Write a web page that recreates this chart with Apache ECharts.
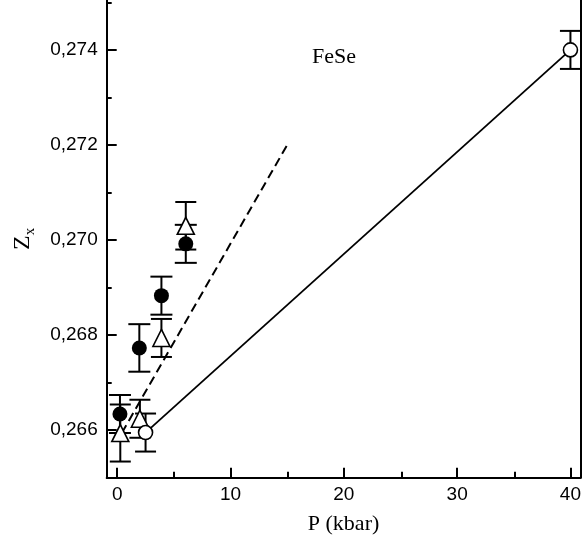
<!DOCTYPE html>
<html>
<head>
<meta charset="utf-8">
<script src="https://cdn.jsdelivr.net/npm/echarts@6/dist/echarts.min.js"></script>
<style>
html,body{margin:0;padding:0;background:#fff;}
#chart{width:584px;height:544px;}
</style>
</head>
<body>
<div id="chart"></div>
<script>
// ---- data ----
const xTickLabels = [0, 10, 20, 30, 40];
const xMinorTicks = [5, 15, 25, 35];
const yTickLabels = [0.266, 0.268, 0.270, 0.272, 0.274];
const yMinorTicks = [0.265, 0.267, 0.269, 0.271, 0.273, 0.275];

// filled circles
const filledP = [0.24, 1.95, 3.9, 6.05];
const filledZ = [0.26634, 0.26773, 0.26883, 0.26992];
const filledErr = [0.0004, 0.0005, 0.0004, 0.0004];

// open triangles
const triP = [0.27, 2.0, 3.9, 6.05];
const triZ = [0.26594, 0.26624, 0.26794, 0.27030];
const triErr = [0.0006, 0.0004, 0.0004, 0.0005];

// open circles
const openP = [2.5, 40];
const openZ = [0.26595, 0.274];
const openErr = [0.0004, 0.0004];

// fit lines
const solidLineP = [2.5, 40];
const solidLineZ = [0.26595, 0.274];
const dashLineP = [0.4, 15];
const dashLineZ = [0.26594, 0.272];

const xMin = -0.93, xMax = 40.88;
const yMin = 0.26500, yMax = 0.27505;

function zip(a, b, c) {
  return a.map((v, i) => c ? [v, b[i], c[i]] : [v, b[i]]);
}

const SANS = '"Liberation Sans", Arial, sans-serif';
const SERIF = '"Liberation Serif", "Times New Roman", serif';

function errRender(capW) {
  return function (params, api) {
    const x = api.value(0), y = api.value(1), e = api.value(2);
    const t = api.coord([x, y + e]);
    const b = api.coord([x, y - e]);
    const h = capW / 2;
    const st = { stroke: '#000', lineWidth: 2 };
    return {
      type: 'group',
      children: [
        { type: 'line', shape: { x1: t[0], y1: t[1], x2: b[0], y2: b[1] }, style: st },
        { type: 'line', shape: { x1: t[0] - h, y1: t[1], x2: t[0] + h, y2: t[1] }, style: st },
        { type: 'line', shape: { x1: b[0] - h, y1: b[1], x2: b[0] + h, y2: b[1] }, style: st }
      ]
    };
  };
}

const gridRect = { left: 106.7, top: -2.3, width: 475, height: 480 };

const chart = echarts.init(document.getElementById('chart'), null, { renderer: 'canvas' });
chart.setOption({
  animation: false,
  backgroundColor: '#fff',
  grid: [Object.assign({}, gridRect), Object.assign({}, gridRect)],
  xAxis: [
    {
      type: 'value', gridIndex: 0, min: xMin, max: xMax, position: 'bottom',
      name: 'P (kbar)', nameLocation: 'middle', nameGap: 36,
      nameTextStyle: { fontFamily: SERIF, fontSize: 22, color: '#000' },
      axisLine: { show: true, onZero: false, lineStyle: { color: '#000', width: 2 } },
      axisTick: { show: true, inside: true, length: 10, customValues: xTickLabels, lineStyle: { color: '#000', width: 2 } },
      axisLabel: { show: true, customValues: xTickLabels, margin: 8, fontFamily: SANS, fontSize: 19, color: '#000',
        formatter: v => String(Math.round(v)) },
      splitLine: { show: false }
    },
    {
      type: 'value', gridIndex: 1, min: xMin, max: xMax, position: 'bottom',
      axisLine: { show: false, onZero: false },
      axisTick: { show: true, inside: true, length: 6, customValues: xMinorTicks, lineStyle: { color: '#000', width: 2 } },
      axisLabel: { show: false },
      splitLine: { show: false }
    }
  ],
  yAxis: [
    {
      type: 'value', gridIndex: 0, min: yMin, max: yMax, position: 'left',
      name: '{z|Z}{s|x}', nameLocation: 'middle', nameGap: 69, nameRotate: 90,
      nameTextStyle: {
        color: '#000',
        rich: {
          z: { fontFamily: SERIF, fontSize: 24, color: '#000', lineHeight: 30, verticalAlign: 'middle' },
          s: { fontFamily: SERIF, fontSize: 15, color: '#000', lineHeight: 30, verticalAlign: 'bottom' }
        }
      },
      axisLine: { show: true, onZero: false, lineStyle: { color: '#000', width: 2 } },
      axisTick: { show: true, inside: true, length: 10, customValues: yTickLabels, lineStyle: { color: '#000', width: 2 } },
      axisLabel: { show: true, customValues: yTickLabels, margin: 9, fontFamily: SANS, fontSize: 19, color: '#000',
        formatter: v => v.toFixed(3).replace('.', ',') },
      splitLine: { show: false }
    },
    {
      type: 'value', gridIndex: 0, min: yMin, max: yMax, position: 'right',
      axisLine: { show: true, onZero: false, lineStyle: { color: '#000', width: 2 } },
      axisTick: { show: false },
      axisLabel: { show: false },
      splitLine: { show: false }
    },
    {
      type: 'value', gridIndex: 1, min: yMin, max: yMax, position: 'left',
      axisLine: { show: false, onZero: false },
      axisTick: { show: true, inside: true, length: 5, customValues: yMinorTicks, lineStyle: { color: '#000', width: 2 } },
      axisLabel: { show: false },
      splitLine: { show: false }
    }
  ],
  graphic: [
    {
      type: 'text', x: 334, y: 57, z: 100,
      style: { text: 'FeSe', font: '22px ' + SERIF, fill: '#000', textAlign: 'center', textVerticalAlign: 'middle' }
    }
  ],
  series: [
    {
      type: 'line', xAxisIndex: 0, yAxisIndex: 0, z: 1,
      data: zip(solidLineP, solidLineZ), symbol: 'none',
      lineStyle: { color: '#000', width: 1.8 }
    },
    {
      type: 'line', xAxisIndex: 0, yAxisIndex: 0, z: 1,
      data: zip(dashLineP, dashLineZ), symbol: 'none',
      lineStyle: { color: '#000', width: 2, type: [9, 5] }
    },
    {
      type: 'custom', xAxisIndex: 0, yAxisIndex: 0, z: 2,
      data: zip(triP, triZ, triErr), renderItem: errRender(21)
    },
    {
      type: 'custom', xAxisIndex: 0, yAxisIndex: 0, z: 2,
      data: zip(openP, openZ, openErr), renderItem: errRender(21)
    },
    {
      type: 'custom', xAxisIndex: 0, yAxisIndex: 0, z: 2,
      data: zip(filledP, filledZ, filledErr), renderItem: errRender(22)
    },
    {
      type: 'scatter', xAxisIndex: 0, yAxisIndex: 0, z: 3,
      data: zip(triP, triZ), symbol: 'triangle', symbolSize: 17,
      itemStyle: { color: '#fff', borderColor: '#000', borderWidth: 1.6, opacity: 1 }
    },
    {
      type: 'scatter', xAxisIndex: 0, yAxisIndex: 0, z: 3,
      data: zip(openP, openZ), symbol: 'circle', symbolSize: 14,
      itemStyle: { color: '#fff', borderColor: '#000', borderWidth: 1.6, opacity: 1 }
    },
    {
      type: 'scatter', xAxisIndex: 0, yAxisIndex: 0, z: 4,
      data: zip(filledP, filledZ), symbol: 'circle', symbolSize: 15,
      itemStyle: { color: '#000', opacity: 1 }
    }
  ]
});
</script>
</body>
</html>
